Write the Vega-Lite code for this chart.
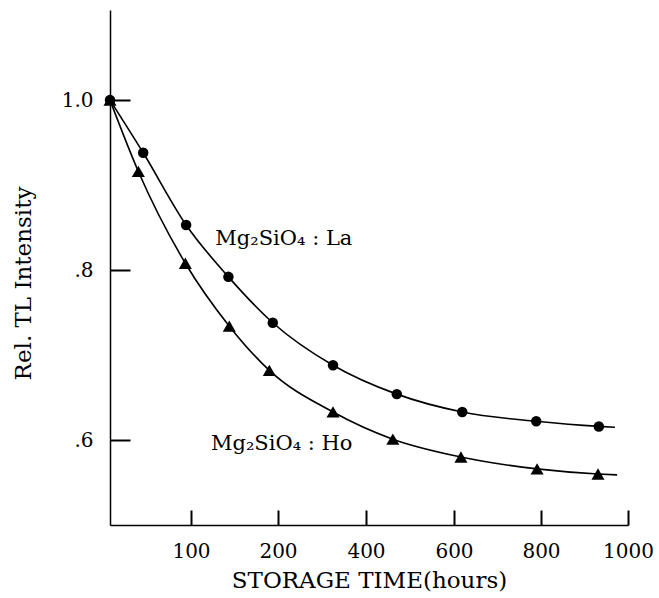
{
  "$schema": "https://vega.github.io/schema/vega-lite/v6.json",
  "autosize": {"type": "none"},
  "padding": {"left": 110, "top": 10, "right": 31, "bottom": 73},
  "width": 518,
  "height": 515,
  "background": "white",
  "config": {
    "view": {"stroke": null},
    "axis": {
      "domainColor": "black",
      "domainWidth": 1.5,
      "tickColor": "black",
      "tickWidth": 2,
      "grid": false,
      "labelFont": "DejaVu Serif",
      "labelFontSize": 20,
      "labelColor": "black",
      "titleFont": "DejaVu Serif",
      "titleFontSize": 23,
      "titleFontWeight": "normal",
      "titleColor": "black"
    }
  },
  "datasets": {
    "measured": [
      {"series": "La", "hours": 0, "value": 1.0},
      {"series": "La", "hours": 41, "value": 0.938},
      {"series": "La", "hours": 94, "value": 0.853},
      {"series": "La", "hours": 143, "value": 0.792},
      {"series": "La", "hours": 194, "value": 0.738},
      {"series": "La", "hours": 325, "value": 0.688},
      {"series": "La", "hours": 470, "value": 0.654},
      {"series": "La", "hours": 619, "value": 0.633},
      {"series": "La", "hours": 789, "value": 0.622},
      {"series": "La", "hours": 933, "value": 0.616},
      {"series": "Ho", "hours": 0, "value": 1.0},
      {"series": "Ho", "hours": 35, "value": 0.916},
      {"series": "Ho", "hours": 93, "value": 0.808},
      {"series": "Ho", "hours": 144, "value": 0.734},
      {"series": "Ho", "hours": 190, "value": 0.682},
      {"series": "Ho", "hours": 325, "value": 0.633},
      {"series": "Ho", "hours": 461, "value": 0.601},
      {"series": "Ho", "hours": 616, "value": 0.580},
      {"series": "Ho", "hours": 791, "value": 0.566},
      {"series": "Ho", "hours": 931, "value": 0.560}
    ],
    "curve": [
      {"series": "La", "hours": 0, "value": 1.0},
      {"series": "La", "hours": 41, "value": 0.938},
      {"series": "La", "hours": 94, "value": 0.853},
      {"series": "La", "hours": 143, "value": 0.792},
      {"series": "La", "hours": 194, "value": 0.738},
      {"series": "La", "hours": 325, "value": 0.688},
      {"series": "La", "hours": 470, "value": 0.654},
      {"series": "La", "hours": 619, "value": 0.633},
      {"series": "La", "hours": 789, "value": 0.622},
      {"series": "La", "hours": 933, "value": 0.616},
      {"series": "La", "hours": 970, "value": 0.615},
      {"series": "Ho", "hours": 0, "value": 1.0},
      {"series": "Ho", "hours": 35, "value": 0.916},
      {"series": "Ho", "hours": 93, "value": 0.808},
      {"series": "Ho", "hours": 144, "value": 0.734},
      {"series": "Ho", "hours": 190, "value": 0.682},
      {"series": "Ho", "hours": 325, "value": 0.633},
      {"series": "Ho", "hours": 461, "value": 0.601},
      {"series": "Ho", "hours": 616, "value": 0.580},
      {"series": "Ho", "hours": 791, "value": 0.566},
      {"series": "Ho", "hours": 931, "value": 0.560},
      {"series": "Ho", "hours": 975, "value": 0.559}
    ],
    "labels": [
      {"text": "Mg₂SiO₄ : La", "hours": 128, "value": 0.829},
      {"text": "Mg₂SiO₄ : Ho", "hours": 123, "value": 0.588}
    ]
  },
  "encoding": {
    "x": {
      "field": "hours",
      "type": "quantitative",
      "scale": {
        "domain": [0, 100, 200, 400, 600, 800, 1000],
        "range": [0, 81, 168, 256, 344, 431, 518],
        "nice": false,
        "zero": false
      },
      "axis": {
        "values": [100, 200, 400, 600, 800, 1000],
        "format": "d",
        "tickSize": -15,
        "labelPadding": 31,
        "labelFlush": false,
        "labelOverlap": false,
        "title": "STORAGE TIME(hours)",
        "titlePadding": 8
      }
    },
    "y": {
      "field": "value",
      "type": "quantitative",
      "scale": {"domain": [0.5, 1.106], "nice": false, "zero": false},
      "axis": {
        "values": [0.6, 0.8, 1.0],
        "tickSize": -20,
        "labelPadding": 37,
        "labelExpr": "datum.value == 1 ? '1.0' : '.' + round(datum.value * 10)",
        "title": "Rel. TL Intensity",
        "titlePadding": 26,
        "titleY": 273
      }
    }
  },
  "layer": [
    {
      "data": {"name": "curve"},
      "mark": {"type": "line", "interpolate": "monotone", "color": "black", "strokeWidth": 1.6},
      "encoding": {"detail": {"field": "series"}}
    },
    {
      "data": {"name": "measured"},
      "mark": {"type": "point", "filled": true, "color": "black", "opacity": 1},
      "encoding": {
        "shape": {
          "field": "series",
          "type": "nominal",
          "scale": {"domain": ["La", "Ho"], "range": ["circle", "triangle-up"]},
          "legend": null
        },
        "size": {
          "field": "series",
          "type": "nominal",
          "scale": {"domain": ["La", "Ho"], "range": [110, 170]},
          "legend": null
        }
      }
    },
    {
      "data": {"name": "labels"},
      "mark": {"type": "text", "align": "left", "baseline": "alphabetic", "font": "DejaVu Serif", "fontSize": 21, "color": "black"},
      "encoding": {"text": {"field": "text"}}
    }
  ]
}
